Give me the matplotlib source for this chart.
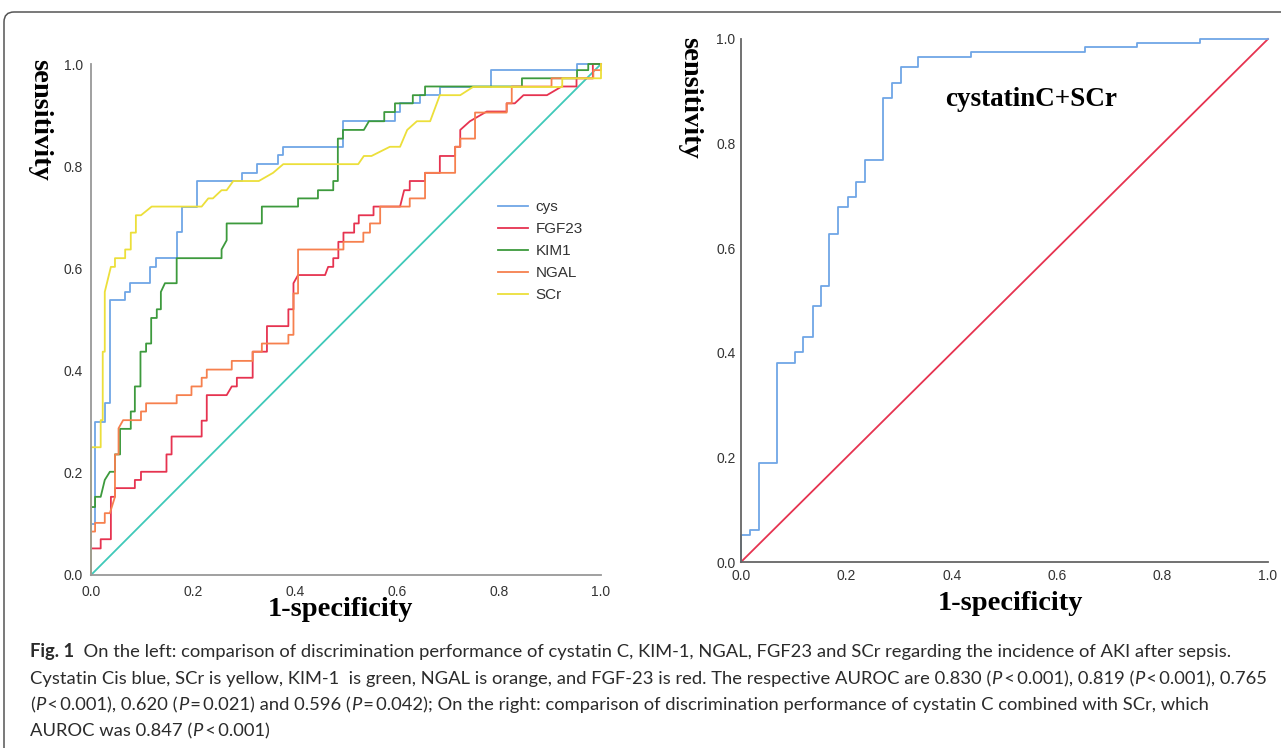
import matplotlib
matplotlib.use("Agg")
import matplotlib.pyplot as plt
from matplotlib.patches import FancyBboxPatch

# left panel: ROC vertices (1-specificity, sensitivity)
cys_x = [0, 0, 0.008, 0.008, 0.027, 0.027, 0.037, 0.037, 0.067, 0.067, 0.077, 0.077, 0.116, 0.116,
         0.128, 0.128, 0.169, 0.169, 0.178, 0.178, 0.208, 0.208, 0.296, 0.296, 0.325, 0.325, 0.367,
         0.367, 0.376, 0.376, 0.494, 0.494, 0.596, 0.596, 0.606, 0.606, 0.645, 0.645, 0.684, 0.684,
         0.784, 0.784, 0.953, 0.953, 1.0]
cys_y = [0, 0.10, 0.10, 0.30, 0.30, 0.336, 0.336, 0.538, 0.538, 0.554, 0.554, 0.571, 0.571, 0.603,
         0.603, 0.62, 0.62, 0.671, 0.671, 0.72, 0.72, 0.771, 0.771, 0.787, 0.787, 0.804, 0.804,
         0.822, 0.822, 0.838, 0.838, 0.888, 0.888, 0.906, 0.906, 0.924, 0.924, 0.939, 0.939, 0.955,
         0.955, 0.988, 0.988, 1.0, 1.0]

fgf_x = [0, 0, 0.019, 0.019, 0.039, 0.039, 0.047, 0.047, 0.086, 0.086, 0.098, 0.098, 0.148, 0.148,
         0.158, 0.158, 0.217, 0.217, 0.227, 0.227, 0.266, 0.276, 0.286, 0.286, 0.317, 0.317, 0.345,
         0.345, 0.387, 0.387, 0.397, 0.397, 0.406, 0.459, 0.465, 0.475, 0.475, 0.485, 0.485, 0.495,
         0.495, 0.516, 0.516, 0.525, 0.525, 0.554, 0.554, 0.606, 0.614, 0.625, 0.625, 0.655, 0.655,
         0.684, 0.684, 0.714, 0.714, 0.724, 0.724, 0.743, 0.776, 0.815, 0.815, 0.831, 0.848, 0.894,
         0.923, 0.952, 0.952, 0.984, 0.984, 1.0]
fgf_y = [0, 0.052, 0.052, 0.07, 0.07, 0.153, 0.153, 0.17, 0.17, 0.186, 0.186, 0.202, 0.202, 0.236,
         0.236, 0.271, 0.271, 0.302, 0.302, 0.352, 0.352, 0.369, 0.369, 0.386, 0.386, 0.437, 0.437,
         0.487, 0.487, 0.52, 0.52, 0.571, 0.587, 0.587, 0.603, 0.603, 0.62, 0.62, 0.652, 0.652,
         0.67, 0.67, 0.688, 0.688, 0.704, 0.704, 0.721, 0.721, 0.753, 0.753, 0.771, 0.771, 0.787,
         0.787, 0.82, 0.82, 0.838, 0.838, 0.871, 0.888, 0.907, 0.907, 0.923, 0.923, 0.939, 0.939,
         0.956, 0.956, 0.972, 0.972, 1.0, 1.0]

kim_x = [0, 0, 0.008, 0.008, 0.019, 0.027, 0.037, 0.047, 0.047, 0.057, 0.057, 0.078, 0.078, 0.086,
         0.086, 0.097, 0.097, 0.108, 0.108, 0.118, 0.118, 0.129, 0.129, 0.137, 0.137, 0.145, 0.168,
         0.168, 0.256, 0.256, 0.266, 0.266, 0.335, 0.335, 0.406, 0.406, 0.445, 0.445, 0.475, 0.475,
         0.484, 0.484, 0.494, 0.494, 0.535, 0.545, 0.575, 0.575, 0.596, 0.596, 0.631, 0.631, 0.655,
         0.655, 0.845, 0.845, 0.953, 0.953, 0.975, 0.975, 1.0]
kim_y = [0, 0.133, 0.133, 0.153, 0.153, 0.186, 0.202, 0.202, 0.236, 0.236, 0.286, 0.286, 0.32, 0.32,
         0.369, 0.369, 0.437, 0.437, 0.453, 0.453, 0.503, 0.503, 0.52, 0.52, 0.554, 0.571, 0.571,
         0.62, 0.62, 0.637, 0.655, 0.688, 0.688, 0.721, 0.721, 0.737, 0.737, 0.753, 0.753, 0.771,
         0.771, 0.854, 0.854, 0.871, 0.871, 0.888, 0.888, 0.906, 0.906, 0.923, 0.923, 0.939, 0.939,
         0.956, 0.956, 0.972, 0.972, 0.988, 0.988, 1.0, 1.0]

ngal_x = [0, 0, 0.008, 0.008, 0.027, 0.027, 0.037, 0.047, 0.047, 0.054, 0.054, 0.063, 0.098, 0.098,
          0.108, 0.108, 0.168, 0.168, 0.197, 0.197, 0.217, 0.217, 0.227, 0.227, 0.276, 0.276, 0.317,
          0.317, 0.335, 0.335, 0.387, 0.387, 0.397, 0.397, 0.406, 0.406, 0.495, 0.495, 0.534, 0.534,
          0.547, 0.547, 0.567, 0.567, 0.625, 0.625, 0.655, 0.655, 0.714, 0.714, 0.724, 0.724, 0.753,
          0.753, 0.815, 0.815, 0.825, 0.825, 0.903, 0.903, 0.985, 0.985, 1.0, 1.0]
ngal_y = [0, 0.085, 0.085, 0.102, 0.102, 0.121, 0.121, 0.153, 0.236, 0.236, 0.287, 0.303, 0.303,
          0.32, 0.32, 0.336, 0.336, 0.352, 0.352, 0.369, 0.369, 0.386, 0.386, 0.402, 0.402, 0.419,
          0.419, 0.437, 0.437, 0.453, 0.453, 0.47, 0.47, 0.551, 0.551, 0.637, 0.637, 0.652, 0.652,
          0.67, 0.67, 0.688, 0.688, 0.721, 0.721, 0.737, 0.737, 0.787, 0.787, 0.838, 0.838, 0.854,
          0.854, 0.905, 0.905, 0.923, 0.923, 0.956, 0.956, 0.972, 0.972, 0.988, 0.988, 1.0]

scr_x = [0, 0, 0.019, 0.019, 0.023, 0.023, 0.027, 0.027, 0.039, 0.047, 0.047, 0.067, 0.067, 0.078,
         0.078, 0.088, 0.088, 0.098, 0.119, 0.217, 0.23, 0.239, 0.256, 0.266, 0.279, 0.329, 0.357,
         0.377, 0.524, 0.535, 0.55, 0.586, 0.606, 0.62, 0.639, 0.665, 0.684, 0.724, 0.749, 0.924,
         0.924, 0.984, 1.0, 1.0]
scr_y = [0, 0.25, 0.25, 0.303, 0.303, 0.437, 0.437, 0.554, 0.603, 0.603, 0.62, 0.62, 0.637, 0.637,
         0.67, 0.67, 0.704, 0.704, 0.721, 0.721, 0.737, 0.737, 0.753, 0.753, 0.771, 0.771, 0.787,
         0.804, 0.804, 0.82, 0.82, 0.838, 0.838, 0.871, 0.888, 0.888, 0.939, 0.939, 0.955, 0.955,
         0.972, 0.972, 0.972, 1.0]

# right panel: cystatin C + SCr (step points)
comb_x = [0, 0.018, 0.034, 0.068, 0.102, 0.118, 0.136, 0.151, 0.167, 0.184, 0.203, 0.218, 0.235,
          0.269, 0.287, 0.304, 0.336, 0.436, 0.653, 0.751, 0.871, 1.0]
comb_y = [0, 0.052, 0.061, 0.19, 0.38, 0.401, 0.43, 0.49, 0.528, 0.628, 0.678, 0.697, 0.727, 0.768,
          0.887, 0.916, 0.946, 0.965, 0.975, 0.985, 0.993, 1.0]

ticks = [0.0, 0.2, 0.4, 0.6, 0.8, 1.0]
tick_labels = ["0.0", "0.2", "0.4", "0.6", "0.8", "1.0"]

serif = "Liberation Serif"
sans = "Liberation Sans"
cap_font = "Lato"

fig = plt.figure(figsize=(12.81, 7.48), dpi=100)
W, H = 1281, 748

# outer rounded frame (cut at right and bottom)
frame = FancyBboxPatch((4, -40), 1320, 776, boxstyle="round,pad=0,rounding_size=10",
                       transform=None, fill=False, edgecolor="#555555", lw=1.1)
fig.patches.append(frame)


def px_axes(x0, x1, ytop, ybot):
    return fig.add_axes([x0 / W, 1 - ybot / H, (x1 - x0) / W, (ybot - ytop) / H])


def style_axes(ax, spine_color, ypad, xpad):
    ax.set_xlim(0, 1)
    ax.set_ylim(0, 1)
    for s in ["top", "right"]:
        ax.spines[s].set_visible(False)
    for s in ["left", "bottom"]:
        ax.spines[s].set_color(spine_color)
        ax.spines[s].set_linewidth(1.3)
    ax.set_xticks(ticks)
    ax.set_yticks(ticks)
    ax.set_xticklabels(tick_labels, family=sans, fontsize=10, color="#333333")
    ax.set_yticklabels(tick_labels, family=sans, fontsize=10, color="#333333")
    ax.tick_params(axis="both", length=0)
    ax.tick_params(axis="y", pad=ypad)
    ax.tick_params(axis="x", pad=xpad)


lw = 1.3

# ---- left panel
ax1 = px_axes(91, 601, 64, 575)
style_axes(ax1, "#999999", 6, 7)
ax1.plot([0, 1], [0, 1], color="#3fc9b9", lw=lw, clip_on=False)
ax1.plot(cys_x, cys_y, color="#6fa6e6", lw=lw, label="cys", clip_on=False)
ax1.plot(fgf_x, fgf_y, color="#e63350", lw=lw, label="FGF23", clip_on=False)
ax1.plot(kim_x, kim_y, color="#3d9a3d", lw=lw, label="KIM1", clip_on=False)
ax1.plot(ngal_x, ngal_y, color="#f6804e", lw=lw, label="NGAL", clip_on=False)
ax1.plot(scr_x, scr_y, color="#ecdf3a", lw=lw, label="SCr", clip_on=False)
leg = ax1.legend(loc="upper left", bbox_to_anchor=(498 / W, 1 - 200 / H),
                 bbox_transform=fig.transFigure, frameon=False, borderpad=0,
                 borderaxespad=0, handlelength=1.95, handletextpad=0.5,
                 labelspacing=0.53, prop={"family": sans, "size": 11})
for t in leg.get_texts():
    t.set_color("#333333")

fig.text(40 / W, 1 - 120 / H, "sensitivity", rotation=-90, family=serif, weight="bold",
         fontsize=20.5, ha="center", va="center")
fig.text(340 / W, 1 - 610 / H, "1-specificity", family=serif, weight="bold",
         fontsize=20.5, ha="center", va="center")

# ---- right panel
ax2 = px_axes(741, 1268, 39, 562)
style_axes(ax2, "#666666", 4, 5)
ax2.plot([0, 1], [0, 1], color="#e63350", lw=lw, clip_on=False)
ax2.plot(comb_x, comb_y, color="#6fa6e6", lw=lw, drawstyle="steps-pre", clip_on=False)
ax2.text(0.551, 0.885, "cystatinC+SCr", transform=ax2.transAxes, family=serif,
         weight="bold", fontsize=19.5, ha="center", va="center")

fig.text(690 / W, 1 - 98 / H, "sensitivity", rotation=-90, family=serif, weight="bold",
         fontsize=20.5, ha="center", va="center")
fig.text(1010 / W, 1 - 604 / H, "1-specificity", family=serif, weight="bold",
         fontsize=20.5, ha="center", va="center")

# ---- caption
cap_color = "#2b2b2b"
fam = [cap_font, "DejaVu Sans"]
lines = [
    [("Fig. 1", "bold", "normal"),
     ("  On the left: comparison of discrimination performance of cystatin C, KIM-1, NGAL, FGF23 "
      "and SCr regarding the incidence of AKI after sepsis.", "normal", "normal")],
    [("Cystatin Cis blue, SCr is yellow, KIM-1  is green, NGAL is orange, and FGF-23 is red. "
      "The respective AUROC are 0.830 (", "normal", "normal"), ("P", "normal", "italic"),
     ("\u2009<\u20090.001), 0.819 (", "normal", "normal"), ("P", "normal", "italic"),
     ("\u2009<\u20090.001), 0.765", "normal", "normal")],
    [("(", "normal", "normal"), ("P", "normal", "italic"),
     ("\u2009<\u20090.001), 0.620 (", "normal", "normal"), ("P", "normal", "italic"),
     ("\u2009=\u20090.021) and 0.596 (", "normal", "normal"), ("P", "normal", "italic"),
     ("\u2009=\u20090.042); On the right: comparison of discrimination performance of cystatin C "
      "combined with SCr, which", "normal", "normal")],
    [("AUROC was 0.847 (", "normal", "normal"), ("P", "normal", "italic"),
     ("\u2009<\u20090.001)", "normal", "normal")],
]
line_y = [652, 679, 705, 731]

renderer = fig.canvas.get_renderer()


def draw_caption(size):
    items, widths = [], []
    for segs, ly in zip(lines, line_y):
        x = 30
        for text, weight, style in segs:
            t = fig.text(x / W, 1 - ly / H, text, family=fam, weight=weight, style=style,
                         fontsize=size, color=cap_color, ha="left", va="center")
            x += t.get_window_extent(renderer).width
            items.append(t)
        widths.append(x - 30)
    return items, max(widths)


items, widest = draw_caption(13.5)
for t in items:
    t.remove()
draw_caption(13.5 * 1236 / widest)

fig.savefig("out.png", dpi=100)
